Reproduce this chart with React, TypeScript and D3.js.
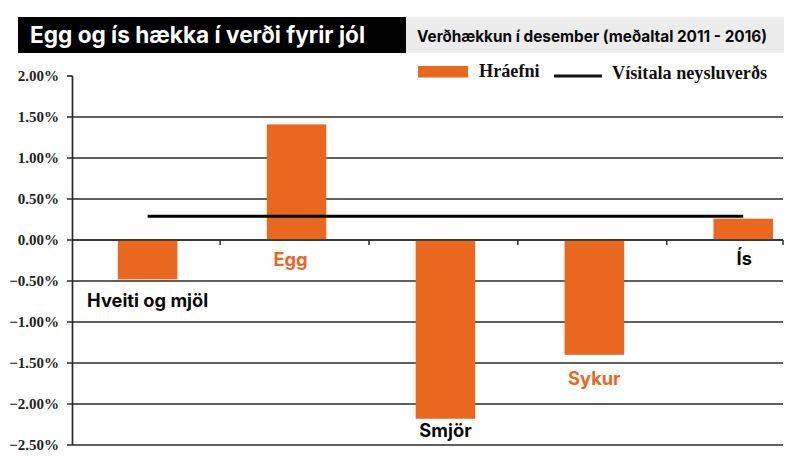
import React from "react";
import * as d3 from "d3";

const categories = ["Hveiti og mjöl", "Egg", "Smjör", "Sykur", "Ís"];
const rawValues = [-0.48, 1.41, -2.18, -1.4, 0.26];
const cpiValues = [0.29, 0.29, 0.29, 0.29, 0.29];
const labelValues = [-0.817, -0.317, -2.4, -1.77, -0.305];
const labelShifts = [0, -6, 0, 0, 1];
const labelColors = ["#0a0a0a", "#e9671f", "#0a0a0a", "#e9671f", "#0a0a0a"];
const yTicks = [2, 1.5, 1, 0.5, 0, -0.5, -1, -1.5, -2, -2.5];
const title = "Egg og ís hækka í verði fyrir jól";
const subtitle = "Verðhækkun í desember (meðaltal 2011 - 2016)";
const legendBars = "Hráefni";
const legendLine = "Vísitala neysluverðs";

const ORANGE = "#e9671f";
const SERIF = "'Liberation Serif', serif";
const SANS = "Inter, sans-serif";

const y = d3.scaleLinear().domain([-2.5, 2]).range([445, 76]);
const x = d3.scaleBand<string>().domain(categories).range([73.2, 817.7]).paddingInner(0.6).paddingOuter(0.3);
const bandStep = x.step();
const xCenter = (c: string) => (x(c) as number) + x.bandwidth() / 2;
const fmt = (v: number) => (v < 0 ? "\u2212" : "") + Math.abs(v).toFixed(2) + "%";
const xRight = 783;
const cpiLine = d3.line<string>().x(xCenter).y((_, i) => y(cpiValues[i]));

export default function App() {
  const tickXs = categories.map((c) => xCenter(c) + bandStep / 2 - 2).filter((t) => t < xRight - 20);
  return (
    <svg width={800} height={457} style={{ position: "absolute", left: 0, top: 0, background: "#fff" }}>
      <rect x={18} y={17} width={388} height={36} fill="#000" />
      <rect x={406} y={17} width={378} height={36} fill="#ececec" />
      <text x={30} y={43} fontFamily={SANS} fontWeight={700} fontSize={22.6} fill="#fff">{title}</text>
      <text x={417} y={41.5} fontFamily={SANS} fontWeight={700} fontSize={16} fill="#0a0a0a" textLength={350} lengthAdjust="spacingAndGlyphs">{subtitle}</text>

      <rect x={418} y={66} width={50} height={11.5} fill={ORANGE} />
      <text x={479} y={77} fontFamily={SERIF} fontWeight={700} fontSize={18.2} fill="#111">{legendBars}</text>
      <line x1={554} x2={602} y1={76} y2={76} stroke="#111" strokeWidth={3.2} />
      <text x={612} y={79} fontFamily={SERIF} fontWeight={700} fontSize={18.2} fill="#111">{legendLine}</text>

      {yTicks.map((t) => (
        <g key={t}>
          <line x1={67} x2={t === 2 ? 72.5 : xRight} y1={y(t)} y2={y(t)} stroke="#2a2a2a" strokeWidth={1.7} />
          <text x={59} y={y(t) + 5} textAnchor="end" fontFamily={SERIF} fontWeight={700} fontSize={15} fill="#222">{fmt(t)}</text>
        </g>
      ))}
      <line x1={72.5} x2={72.5} y1={y(2)} y2={y(-2.5)} stroke="#2a2a2a" strokeWidth={1.7} />

      {categories.map((c, i) => (
        <rect key={c} x={x(c)} width={x.bandwidth()} y={y(Math.max(0, rawValues[i]))} height={Math.abs(y(rawValues[i]) - y(0))} fill={ORANGE} />
      ))}
      <line x1={72.5} x2={xRight} y1={y(0)} y2={y(0)} stroke="#2a2a2a" strokeWidth={1.7} />
      {[...tickXs, xRight].map((t) => (
        <line key={t} x1={t} x2={t} y1={y(0)} y2={y(0) + 5} stroke="#2a2a2a" strokeWidth={1.5} />
      ))}
      <path d={cpiLine(categories) as string} fill="none" stroke="#000" strokeWidth={3} />

      {categories.map((c, i) => (
        <text key={c} x={xCenter(c) + labelShifts[i]} y={y(labelValues[i])} textAnchor="middle" fontFamily={SANS} fontWeight={700} fontSize={18.3} fill={labelColors[i]}>{c}</text>
      ))}
    </svg>
  );
}
